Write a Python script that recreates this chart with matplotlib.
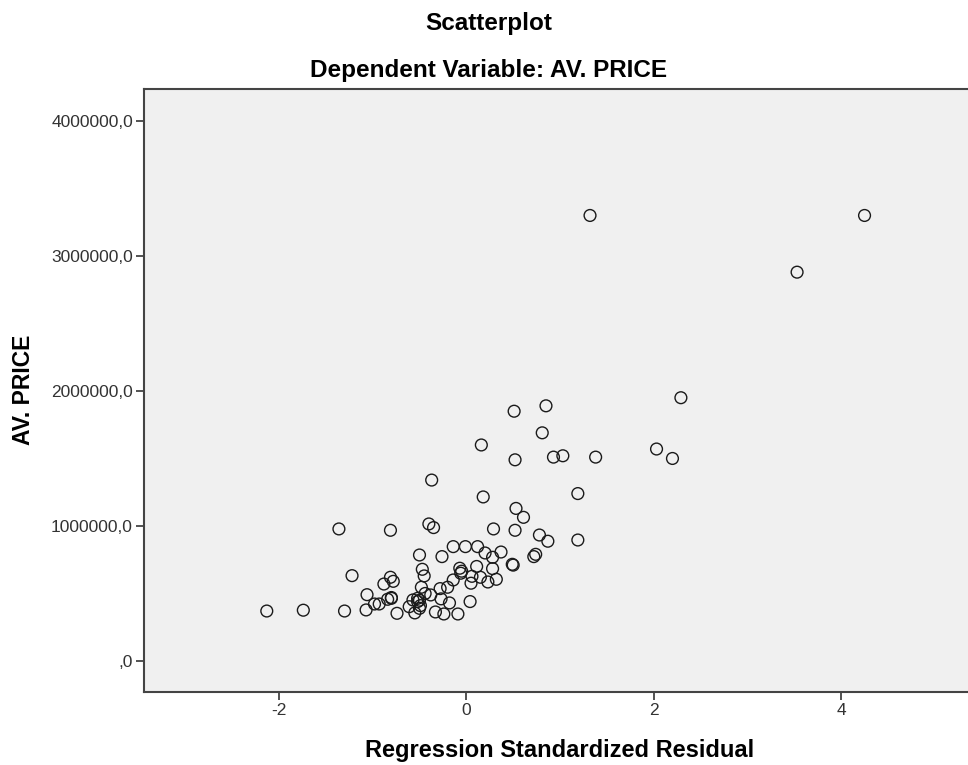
import matplotlib
matplotlib.use('Agg')
import matplotlib.pyplot as plt

plt.rcParams['font.family'] = ['Liberation Sans', 'DejaVu Sans']

# regression standardized residual
resid = [1.32, 4.25, 3.53, 2.29, 2.03, 2.20, 0.51, 0.85, 0.81, 0.16,
         0.52, 0.93, 1.03, 1.38, -0.37, 0.18, 1.19, 0.53, 0.61, -1.36,
         -0.81, -0.40, -0.35, 0.29, 0.52, 0.78, 0.87, 1.19, -0.50, -0.26,
         -0.14, -0.01, 0.12, 0.20, 0.28, 0.37, 0.49, 0.50, 0.72, 0.74,
         -1.22, -0.81, -0.78, -0.88, -0.47, -0.45, -0.48, -0.07, -0.06, -0.05,
         0.11, 0.28, 0.06, 0.15, 0.23, 0.32, 0.05, -0.14, -0.20, -0.28,
         -0.38, -0.27, -0.18, 0.04, -0.09, -0.24, -0.33, -0.50, -0.55, -0.61,
         -0.57, -0.52, -0.74, -0.80, -0.84, -0.93, -0.98, -1.06, -1.07, -1.30,
         -1.74, -2.13, -0.50, -0.44, -0.49, -0.80, -0.52]

# AV. PRICE
price = [3300000, 3300000, 2880000, 1950000, 1570000, 1500000, 1850000, 1890000, 1690000, 1600000,
         1490000, 1510000, 1520000, 1510000, 1340000, 1215000, 1240000, 1130000, 1064000, 978000,
         968000, 1015000, 988000, 978000, 968000, 933000, 887000, 896000, 785000, 773000,
         847000, 847000, 847000, 800000, 768000, 807000, 716000, 710000, 773000, 790000,
         632000, 620000, 590000, 570000, 679000, 630000, 546000, 687000, 650000, 665000,
         700000, 684000, 627000, 620000, 585000, 605000, 576000, 600000, 546000, 536000,
         489000, 460000, 430000, 440000, 348000, 348000, 363000, 390000, 356000, 402000,
         452000, 464000, 353000, 464000, 457000, 422000, 422000, 491000, 378000, 370000,
         376000, 370000, 450000, 500000, 410000, 470000, 440000]

yticks = [0, 1000000, 2000000, 3000000, 4000000]
ytick_labels = [',0', '1000000,0', '2000000,0', '3000000,0', '4000000,0']
xticks = [-2, 0, 2, 4]

fig = plt.figure(figsize=(9.68, 7.65), dpi=100)
# the chart continues slightly past the right edge of the image
ax = fig.add_axes([0.1488, 0.0954, 0.8595, 0.7883])
ax.set_facecolor('#f0f0f0')

ax.scatter(resid, price, s=72, facecolors='none', edgecolors='#1a1a1a', linewidths=1.0)

ax.set_xlim(-3.44, 5.44)
ax.set_ylim(-230000, 4237000)
ax.set_xticks(xticks)
ax.set_xticklabels([str(t) for t in xticks])
ax.set_yticks(yticks)
ax.set_yticklabels(ytick_labels)

for side in ['left', 'bottom', 'top']:
    ax.spines[side].set_color('#444444')
    ax.spines[side].set_linewidth(1.5)
ax.spines['right'].set_visible(False)
ax.tick_params(direction='out', length=6, width=1.3, color='#444444',
               labelsize=12.5, labelcolor='#333333', pad=2)

fig.text(0.505, 0.961, 'Scatterplot', ha='center', va='baseline',
         fontsize=17.5, fontweight='bold')
fig.text(0.505, 0.900, 'Dependent Variable: AV. PRICE', ha='center', va='baseline',
         fontsize=17.5, fontweight='bold')
fig.text(0.578, 0.010, 'Regression Standardized Residual', ha='center', va='baseline',
         fontsize=17, fontweight='bold')
fig.text(0.024, 0.49, 'AV. PRICE', ha='center', va='center', rotation=90,
         fontsize=16.5, fontweight='bold')

fig.savefig('out.png', dpi=100)
